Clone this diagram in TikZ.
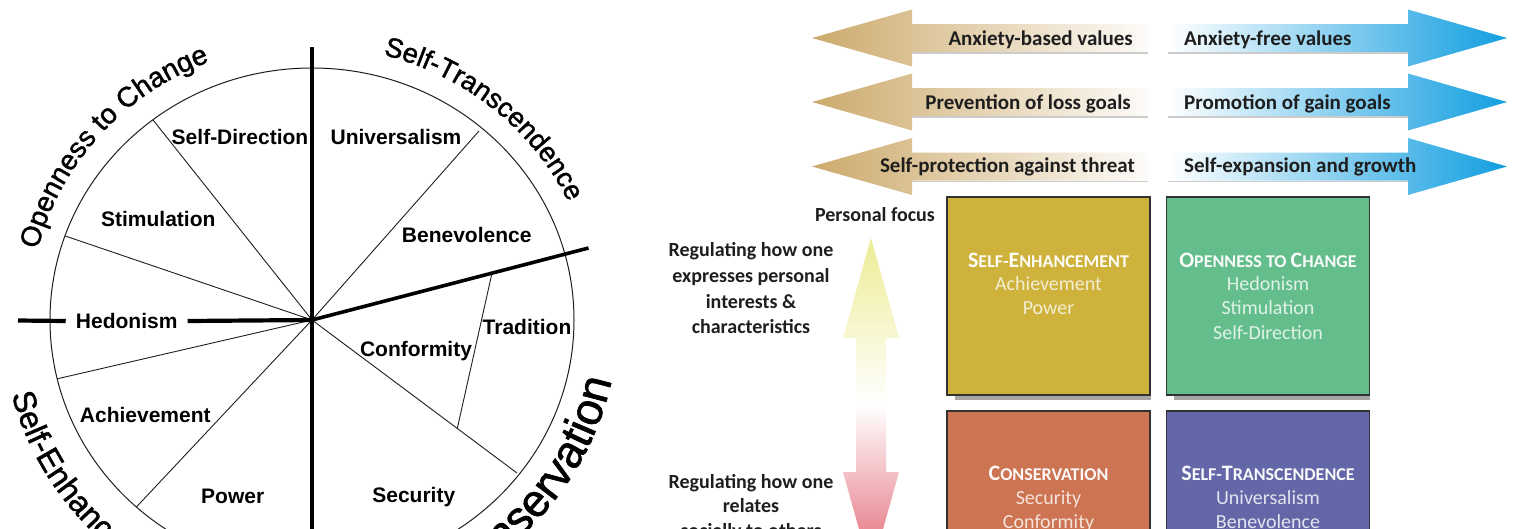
\documentclass[tikz,border=0pt]{standalone}
\usepackage{fontspec}
\setmainfont{Liberation Sans}
\newfontfamily\calfont{Carlito}
\newfontfamily\heavysans[FakeBold=1.4]{Liberation Sans}
\usetikzlibrary{decorations.text}

% colours
\definecolor{goldbox}{RGB}{206,178,60}
\definecolor{greenbox}{RGB}{99,190,139}
\definecolor{orangebox}{RGB}{205,116,82}
\definecolor{purplebox}{RGB}{99,103,168}
\definecolor{arrowtan}{RGB}{204,170,108}
\definecolor{arrowblue}{RGB}{18,158,224}
\definecolor{boxedge}{RGB}{50,50,50}
\definecolor{inkgray}{RGB}{30,30,30}
\definecolor{upyellow}{RGB}{238,236,150}
\definecolor{downpink}{RGB}{226,100,114}

% fonts for the curved group names
\newcommand\arcOC{\heavysans\fontsize{28}{30}\selectfont}
\newcommand\arcST{\heavysans\fontsize{27.3}{30}\selectfont}
\newcommand\arcSE{\heavysans\fontsize{32}{36}\selectfont}
\newcommand\arcCO{\heavysans\fontsize{45.5}{50}\selectfont}
% hand-made small capitals
\newcommand\scw[2]{{\fontsize{22}{24}\selectfont#1}{\fontsize{18}{24}\selectfont#2}}

\begin{document}
\begin{tikzpicture}[x=1pt, y=-1pt,
  value/.style={font=\bfseries\fontsize{21}{24}\selectfont, inner sep=0pt, text height=15pt, text depth=0pt},
  axisline/.style={line width=4.2pt, draw=black},
  spoke/.style={line width=0.9pt, draw=inkgray},
  rim/.style={line width=1pt, draw=inkgray},
  arrowtext/.style={font=\calfont\bfseries\fontsize{21}{24}\selectfont, text=inkgray, inner sep=0pt, anchor=base},
  sidetext/.style={font=\calfont\bfseries\fontsize{20}{24}\selectfont, text=inkgray, inner sep=0pt, anchor=base},
  valbox/.style={draw=boxedge, line width=1.2pt, minimum width=203pt, minimum height=198pt, inner sep=0pt},
  boxhead/.style={font=\calfont\bfseries, inner sep=0pt, anchor=base},
  boxitem/.style={font=\calfont\fontsize{20}{24}\selectfont, inner sep=0pt, anchor=base},
  arcname/.style={decorate, decoration={text along path, text align=left, text={#1}}},
]
\useasboundingbox (0,0) rectangle (1513,528);
\fill[white] (0,0) rectangle (1513,528);
\begin{scope}
\clip (0,0) rectangle (1513,528);

% ================= circumplex of values =================
\coordinate (O) at (312,320);
\draw[rim] (O) ellipse [x radius=262, y radius=252];

% spoke ends on the rim
\coordinate (sdst) at (152.9,119.8);
\coordinate (sthe) at (65,235.9);
\coordinate (heac) at (57.2,378.8);
\coordinate (acpo) at (136.4,507);
\coordinate (unbe) at (479,131);
\coordinate (cose) at (517,473);
\coordinate (trA) at (492,273.1);
\coordinate (trB) at (457.3,428.4);

\draw[spoke] (O) -- (sdst);
\draw[spoke] (O) -- (sthe);
\draw[spoke] (O) -- (heac);
\draw[spoke] (O) -- (acpo);
\draw[spoke] (O) -- (unbe);
\draw[spoke] (O) -- (cose);
\draw[spoke] (trA) -- (trB);

% value labels
\node[value] (sdir) at (240,136.7) {Self-Direction};
\node[value] (univ) at (396,136.7) {Universalism};
\node[value] (stim) at (158.3,219.3) {Stimulation};
\node[value] (bene) at (466.7,235) {Benevolence};
\node[value, inner xsep=10pt] (hedo) at (126.7,321) {Hedonism};
\node[value] (achi) at (145.3,415) {Achievement};
\node[value] (powe) at (232.7,496) {Power};
\node[value] (trad) at (527,326.7) {Tradition};
\node[value] (conf) at (416,349.3) {Conformity};
\node[value] (secu) at (413.8,495) {Security};

% main axes
\coordinate (vtop) at (312,47);
\coordinate (vbot) at (312,540);
\coordinate (hedL) at (18,320.5);
\coordinate (diag) at (588.5,248);
\draw[axisline] (vtop) -- (vbot);
\draw[axisline] (hedL) -- (hedo.west);
\draw[axisline] (hedo.east) -- (O);
\draw[axisline, line width=3.6pt] (O) -- (diag);

% higher-order group names along the rim
\path[arcname={|\arcOC|Openness to Change}]
  (37.7,249.6) arc[start angle=194, end angle=262, x radius=282, y radius=272];
\path[arcname={|\arcST|Self-Transcendence}]
  (383.1,54.8) arc[start angle=284.5, end angle=350, x radius=284, y radius=274];
\path[arcname={|\arcSE|Self-Enhancement}]
  (11.7,394.6) arc[start angle=165.6, end angle=60, x radius=310, y radius=300];
\path[arcname={|\arcCO|Conservation}]
  (451,583.7) arc[start angle=63, end angle=-25, x radius=306, y radius=296];

% ================= motivational arrows =================
\foreach \cy in {38,102,166.5}{
  \shade[left color=arrowtan, right color=white!96!arrowtan]
    (812,\cy) -- (912,\cy-28.5) -- (912,\cy-14) -- (1148,\cy-14)
    -- (1148,\cy+14) -- (912,\cy+14) -- (912,\cy+28.5) -- cycle;
  \shade[left color=white, right color=arrowblue]
    (1168,\cy-14) -- (1408,\cy-14) -- (1408,\cy-28.5) -- (1507,\cy)
    -- (1408,\cy+28.5) -- (1408,\cy+14) -- (1168,\cy+14) -- cycle;
  \draw[black!20, line width=1.5pt] (912,\cy+15) -- (1148,\cy+15);
  \draw[black!20, line width=1.5pt] (1168,\cy+15) -- (1408,\cy+15);
}
\node[arrowtext, anchor=base east] (abv) at (1133,45) {Anxiety-based values};
\node[arrowtext, anchor=base west] (afv) at (1184,45) {Anxiety-free values};
\node[arrowtext, anchor=base east] (plg) at (1131,109) {Prevention of loss goals};
\node[arrowtext, anchor=base west] (pgg) at (1184,109) {Promotion of gain goals};
\node[arrowtext, anchor=base east] (spt) at (1135,172) {Self-protection against threat};
\node[arrowtext, anchor=base west] (seg) at (1184,172) {Self-expansion and growth};

% ================= focus arrow and its labels =================
\shade[top color=upyellow, bottom color=downpink, middle color=white]
  (871,238) -- (899,338) -- (886,338) -- (886,472) -- (899,472) -- (871,572)
  -- (843,472) -- (856,472) -- (856,338) -- (843,338) -- cycle;

\node[sidetext] (pf) at (875,221.7) {Personal focus};
\node[sidetext] (ra1) at (751,256.7) {Regulating how one};
\node[sidetext] (ra2) at (751,282.5) {expresses personal};
\node[sidetext] (ra3) at (751,308.3) {interests \&};
\node[sidetext] (ra4) at (751,333.3) {characteristics};
\node[sidetext] (rb1) at (751,488.3) {Regulating how one};
\node[sidetext] (rb2) at (751,512) {relates};
\node[sidetext] (rb3) at (751,537) {socially to others};

% ================= quadrant boxes =================
\fill[black!35] (955,395) rectangle (1151,399.5);
\fill[black!35] (1174,395) rectangle (1370,399.5);
\node[valbox, fill=goldbox] (bse) at (1048.5,296) {};
\node[valbox, fill=greenbox] (boc) at (1268,296) {};
\node[valbox, fill=orangebox] (bco) at (1048.5,510) {};
\node[valbox, fill=purplebox] (bst) at (1268,510) {};

\node[boxhead, text=white!96!goldbox] (hse) at (1048.5,267) {\scw{S}{ELF-}\scw{E}{NHANCEMENT}};
\node[boxitem, text=white!78!goldbox] (ise1) at (1048.5,290.8) {Achievement};
\node[boxitem, text=white!78!goldbox] (ise2) at (1048.5,314.8) {Power};

\node[boxhead, text=white!96!greenbox] (hoc) at (1268,267) {\scw{O}{PENNESS TO }\scw{C}{HANGE}};
\node[boxitem, text=white!80!greenbox] (ioc1) at (1268,290.5) {Hedonism};
\node[boxitem, text=white!80!greenbox] (ioc2) at (1268,314.8) {Stimulation};
\node[boxitem, text=white!80!greenbox] (ioc3) at (1268,339.5) {Self-Direction};

\node[boxhead, text=white!96!orangebox] (hco) at (1048.5,480.5) {\scw{C}{ONSERVATION}};
\node[boxitem, text=white!80!orangebox] (ico1) at (1048.5,504.8) {Security};
\node[boxitem, text=white!80!orangebox] (ico2) at (1048.5,528.8) {Conformity};

\node[boxhead, text=white!96!purplebox] (hst) at (1268,480.5) {\scw{S}{ELF-}\scw{T}{RANSCENDENCE}};
\node[boxitem, text=white!82!purplebox] (ist1) at (1268,504.8) {Universalism};
\node[boxitem, text=white!82!purplebox] (ist2) at (1268,528.8) {Benevolence};
\end{scope}
\end{tikzpicture}
\end{document}
